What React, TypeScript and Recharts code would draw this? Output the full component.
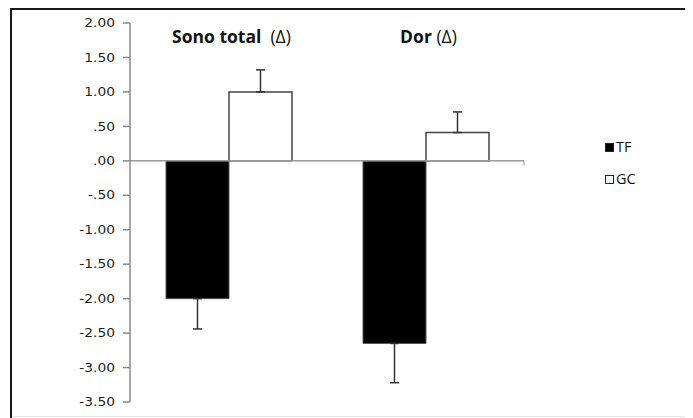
import React from "react";
import {
  BarChart,
  Bar,
  XAxis,
  YAxis,
  ErrorBar,
  ReferenceLine,
} from "recharts";

const categoryNames = ["Sono total", "Dor"];
const categorySuffix = ["  (\u0394)", " (\u0394)"];
const tfValues = [-2.0, -2.65];
const tfErrors = [0.44, 0.57];
const gcValues = [1.0, 0.41];
const gcErrors = [0.32, 0.3];
const yTicks = [2, 1.5, 1, 0.5, 0, -0.5, -1, -1.5, -2, -2.5, -3, -3.5];
const seriesNames = ["TF", "GC"];

const data = categoryNames.map((name, i) => ({
  name,
  TF: tfValues[i],
  GC: gcValues[i],
  tfErr: [tfErrors[i], 0],
  gcErr: [0, gcErrors[i]],
}));

const fmt = (v: number) => {
  let s = v.toFixed(2);
  if (s.startsWith("0.")) s = s.slice(1);
  else if (s.startsWith("-0.")) s = "-" + s.slice(2);
  return s;
};

const YTick = (props: any) => {
  const { x, y, payload } = props;
  return (
    <g transform={`translate(${x},${y})`}>
      <text
        transform="scale(1.2,1)"
        textAnchor="end"
        dy="0.36em"
        fontFamily="DejaVu Sans"
        fontSize={11.5}
        fill="#1e1e1e"
      >
        {fmt(payload.value)}
      </text>
    </g>
  );
};

const TitleTick = (props: any) => {
  const { x, payload, index } = props;
  const suffix = categorySuffix[index] ?? "";
  return (
    <text
      x={x + 3}
      y={43}
      textAnchor="middle"
      fontFamily="Open Sans"
      fontSize={17.5}
      fill="#111"
      xmlSpace="preserve"
    >
      <tspan fontWeight="bold">{payload.value}</tspan>
      <tspan fontWeight="normal" fontSize={17.5}>{suffix}</tspan>
    </text>
  );
};

const LegendBox = () => (
  <div style={{ position: "absolute", left: 605, top: 131, fontFamily: "Open Sans", fontSize: 14.5, color: "#111" }}>
    {seriesNames.map((n, i) => (
      <div
        key={n}
        style={{ display: "flex", alignItems: "center", height: 32, lineHeight: "32px" }}
      >
        <span
          style={{
            display: "inline-block",
            width: 7,
            height: 7,
            background: i === 0 ? "#000" : "#fff",
            border: "1px solid #222",
            marginRight: 2,
          }}
        />
        <span>{n}</span>
      </div>
    ))}
  </div>
);

export default function App() {
  return (
    <div style={{ position: "relative", width: 693, height: 418, marginLeft: -8, marginTop: -8, background: "#fff", overflow: "hidden" }}>
      <div
        style={{
          position: "absolute",
          left: 10,
          top: 8,
          width: 677,
          height: 420,
          borderLeft: "2px solid #1a1a1a",
          borderTop: "2px solid #1a1a1a",
          borderRight: "2px solid #333",
          boxSizing: "border-box",
        }}
      />
      <div style={{ position: "absolute", left: 12, top: 416, width: 673, height: 1, background: "#e4e4e4" }} />
      <div style={{ position: "absolute", left: 0, top: 0 }}>
        <BarChart
          width={693}
          height={418}
          data={data}
          margin={{ top: 3, right: 169, bottom: 16, left: 0 }}
          barGap={0}
          barSize={63}
        >
          <XAxis
            xAxisId="c"
            dataKey="name"
            orientation="top"
            height={20}
            axisLine={false}
            tickLine={false}
            tick={<TitleTick />}
            interval={0}
          />
          <XAxis xAxisId="n" type="number" domain={[0, 2]} hide />
          <YAxis
            domain={[-3.5, 2]}
            ticks={yTicks}
            interval={0}
            width={130}
            tickSize={7}
            tickMargin={8}
            tick={<YTick />}
            stroke="#8a8a8a"
            strokeWidth={1.5}
          />
          <Bar xAxisId="c" dataKey="TF" fill="#000" stroke="#555" strokeWidth={1} isAnimationActive={false}>
            <ErrorBar dataKey="tfErr" width={4.5} stroke="#333" strokeWidth={1.5} direction="y" />
          </Bar>
          <Bar xAxisId="c" dataKey="GC" fill="#fff" stroke="#444" strokeWidth={1.5} isAnimationActive={false}>
            <ErrorBar dataKey="gcErr" width={4.5} stroke="#333" strokeWidth={1.5} direction="y" />
          </Bar>
          <ReferenceLine xAxisId="c" y={0} stroke="#999" strokeWidth={1.5} />
          <ReferenceLine
            xAxisId="n"
            segment={[{ x: 1, y: 0 }, { x: 1, y: -0.07 }]}
            stroke="#999"
            strokeWidth={1}
          />
          <ReferenceLine
            xAxisId="n"
            segment={[{ x: 2, y: 0 }, { x: 2, y: -0.07 }]}
            stroke="#999"
            strokeWidth={1.5}
          />
        </BarChart>
      </div>
      <LegendBox />
    </div>
  );
}
